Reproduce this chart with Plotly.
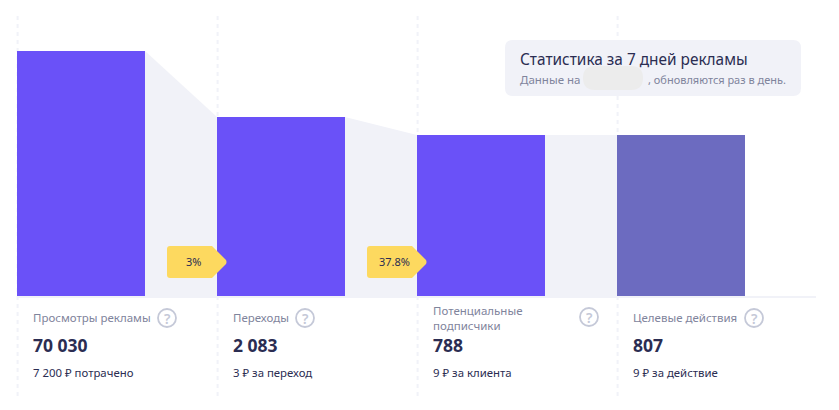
import plotly.graph_objs as go

# Values
bar_positions = [0, 1, 2, 3]
bar_heights = [245, 179, 161, 161]
bar_colors = ['#6a51f8', '#6a51f8', '#6a51f8', '#6c6bc0']
metric_names = ['Просмотры рекламы', 'Переходы', 'Потенциальные<br>подписчики', 'Целевые действия']
metric_values = [70030, 2083, 788, 807]
metric_costs = ['7 200 ₽ потрачено', '3 ₽ за переход', '9 ₽ за клиента', '9 ₽ за действие']
conversion_labels = ['3%', '37.8%']
help_icon_x = [167, 305, 589, 754]
help_icon_y = [318, 318, 317, 318]

WIDTH = 839
HEIGHT = 410
FONT = 'Noto Sans'
DARK = '#2b2d52'
GREY = '#7f849c'
PALE = '#f1f2f8'
BAR_WIDTH = 0.64


def px(x):
    return x / WIDTH


def py(y):
    return 1 - y / HEIGHT


def rounded_rect(x0, y0, x1, y1, r):
    # Rounded box in paper coordinates, input in pixels
    rx = r / WIDTH
    ry = r / HEIGHT
    l, r_, t, b = px(x0), px(x1), py(y0), py(y1)
    return (f'M {l + rx},{t} L {r_ - rx},{t} Q {r_},{t} {r_},{t - ry} L {r_},{b + ry} '
            f'Q {r_},{b} {r_ - rx},{b} L {l + rx},{b} Q {l},{b} {l},{b + ry} L {l},{t - ry} '
            f'Q {l},{t} {l + rx},{t} Z')


fig = go.Figure()

# Grey connectors between the bars
for i in range(len(bar_positions) - 1):
    x0 = bar_positions[i] + BAR_WIDTH / 2
    x1 = bar_positions[i + 1] - BAR_WIDTH / 2
    fig.add_trace(go.Scatter(x=[x0, x1, x1, x0, x0],
                             y=[bar_heights[i], bar_heights[i + 1], 0, 0, bar_heights[i]],
                             mode='lines', fill='toself', fillcolor=PALE,
                             line=dict(width=0), hoverinfo='skip', showlegend=False))

fig.add_trace(go.Bar(x=bar_positions, y=bar_heights, width=BAR_WIDTH,
                     marker=dict(color=bar_colors, line=dict(width=0)),
                     hoverinfo='skip', showlegend=False))

shapes = []

# Dashed column separators
for pos in bar_positions:
    shapes.append(dict(type='line', layer='below', xref='x', yref='paper',
                       x0=pos - BAR_WIDTH / 2 + 0.003, x1=pos - BAR_WIDTH / 2 + 0.003,
                       y0=py(16), y1=py(396),
                       line=dict(color=PALE, width=2, dash='4px,4px')))

# Baseline
shapes.append(dict(type='line', layer='below', xref='paper', yref='paper',
                   x0=px(17), x1=px(816), y0=py(297), y1=py(297),
                   line=dict(color=PALE, width=2)))

# Yellow conversion tags
tag_path = ('M -47,16 L -5,16 L 9,2 Q 10,0 9,-2 L -5,-16 L -47,-16 '
            'Q -50,-16 -50,-13 L -50,13 Q -50,16 -47,16 Z')
for i, label in enumerate(conversion_labels):
    shapes.append(dict(type='path', xsizemode='pixel', ysizemode='pixel', xref='x', yref='y',
                       xanchor=bar_positions[i + 1] - BAR_WIDTH / 2, yanchor=34,
                       path=tag_path, fillcolor='#fdd95f', line=dict(width=0)))

# Info box and the blurred date
shapes.append(dict(type='path', xref='paper', yref='paper', path=rounded_rect(505, 40, 801, 96, 8),
                   fillcolor=PALE, line=dict(width=0)))
shapes.append(dict(type='path', xref='paper', yref='paper', path=rounded_rect(583, 66, 643, 90, 12),
                   fillcolor='#ececec', line=dict(width=0)))

# Help icons
for cx, cy in zip(help_icon_x, help_icon_y):
    shapes.append(dict(type='circle', xref='paper', yref='paper',
                       x0=px(cx - 9), x1=px(cx + 9), y0=py(cy + 9), y1=py(cy - 9),
                       line=dict(color='#c5c9d8', width=1.8)))

annotations = []


def add_text(x, y, text, size, color, weight=400, anchor='left'):
    annotations.append(dict(x=px(x), y=py(y), xref='paper', yref='paper', text=text,
                            showarrow=False, xanchor=anchor, yanchor='middle', align='left',
                            font=dict(family=FONT, size=size, color=color, weight=weight),
                            borderpad=0, borderwidth=0))


for i, pos in enumerate(bar_positions):
    left = 33 + 200 * pos
    add_text(left, 317.5, metric_names[i], 11.5, GREY)
    add_text(left, 344.5, f'{metric_values[i]:,}'.replace(',', ' '), 17.5, DARK, 700)
    add_text(left, 372.5, metric_costs[i], 11.4, DARK)
    add_text(help_icon_x[i], help_icon_y[i], '?', 14, '#c5c9d8', 600, 'center')

add_text(193.5, 261.5, conversion_labels[0], 11, DARK, 400, 'center')
add_text(394, 261.5, conversion_labels[1], 11, DARK, 400, 'center')
add_text(520, 59, 'Статистика за 7 дней рекламы', 15.4, DARK)
add_text(520, 80, 'Данные на', 11.5, GREY)
add_text(648, 80, ', обновляются раз в день.', 11, GREY)

fig.update_layout(
    width=WIDTH, height=HEIGHT,
    margin=dict(l=0, r=0, t=0, b=0),
    paper_bgcolor='white', plot_bgcolor='white',
    xaxis=dict(range=[-81 / 200, 758 / 200], visible=False, fixedrange=True),
    yaxis=dict(range=[-114, 296], visible=False, fixedrange=True),
    shapes=shapes, annotations=annotations, showlegend=False,
)

# Browser default body margin would push the chart 8px off
fig.write_html("out.html", config={'displayModeBar': False},
               post_script="document.body.style.margin = '0';")
